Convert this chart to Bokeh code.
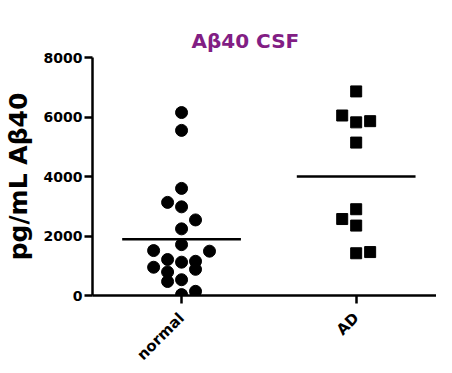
import math
from bokeh.plotting import figure
from bokeh.models import Range1d, FixedTicker, ColumnDataSource, Title
from bokeh.embed import file_html
from bokeh.resources import INLINE

# ---- data ----
categories = ["normal", "AD"]
normal_values = [6150, 5550, 3600, 3130, 2980, 2540, 2240, 1710, 1510, 1490,
                 1210, 1120, 1150, 950, 880, 790, 470, 530, 30, 140]
normal_offsets = [0, 0, 0, -1, 0, 1, 0, 0, -2, 2, -1, 0, 1, -2, 1, -1, -1, 0, 0, 1]
ad_values = [6860, 6050, 5820, 5860, 5140, 2900, 2570, 2350, 1420, 1460]
ad_offsets = [0, -1, 0, 1, 0, 0, -1, 0, 0, 1]
center_lines = [1890, 4000]
y_ticks = [0, 2000, 4000, 6000, 8000]

STEP = 0.08
HALF = 0.34
FONT = "DejaVu Sans"

p = figure(width=436, height=373, output_backend="svg", toolbar_location=None,
           x_range=Range1d(-0.01, 1.96), y_range=Range1d(0, 8000),
           min_border_left=81, min_border_right=0, min_border_top=57,
           min_border_bottom=76)

title = Title(text="A\u03b240 CSF", text_font=FONT, text_font_size="20px",
              text_font_style="bold", text_color="#821E84", align="left",
              vertical_align="bottom", offset=99, standoff=10)
p.add_layout(title, "above")

p.outline_line_color = None
p.xgrid.visible = False
p.ygrid.visible = False

src_n = ColumnDataSource(dict(x=[0.5 + o * STEP for o in normal_offsets], y=normal_values))
src_a = ColumnDataSource(dict(x=[1.5 + o * STEP for o in ad_offsets], y=ad_values))
p.scatter("x", "y", source=src_n, marker="circle", size=12, color="black")
p.scatter("x", "y", source=src_a, marker="square", size=11, color="black")

xs = [i + 0.5 for i in range(len(categories))]
p.segment(x0=[x - HALF for x in xs], x1=[x + HALF for x in xs],
          y0=center_lines, y1=center_lines, line_color="black", line_width=2.5)

# axes styling
p.xaxis.ticker = FixedTicker(ticks=xs)
p.xaxis.major_label_overrides = {x: c for x, c in zip(xs, categories)}
p.xaxis.major_label_orientation = math.pi / 4
p.yaxis.ticker = FixedTicker(ticks=y_ticks)
p.yaxis.axis_label = "pg/mL A\u03b240"

for ax in (p.xaxis, p.yaxis):
    ax.axis_line_width = 2.5
    ax.axis_line_color = "black"
    ax.major_tick_line_width = 2.5
    ax.major_tick_line_color = "black"
    ax.major_tick_in = 0
    ax.major_tick_out = 8
    ax.minor_tick_line_color = None
    ax.major_label_text_font = FONT
    ax.major_label_text_font_style = "bold"
    ax.major_label_text_color = "black"

p.yaxis.major_label_standoff = 2
p.xaxis.major_label_standoff = 12
p.yaxis.major_label_text_font_size = "14px"
p.xaxis.major_label_text_font_size = "15px"
p.yaxis.axis_label_text_font = FONT
p.yaxis.axis_label_text_font_size = "25px"
p.yaxis.axis_label_text_font_style = "bold"
p.yaxis.axis_label_text_color = "black"
p.yaxis.axis_label_standoff = 8

open("out.html", "w").write(file_html(p, INLINE))
